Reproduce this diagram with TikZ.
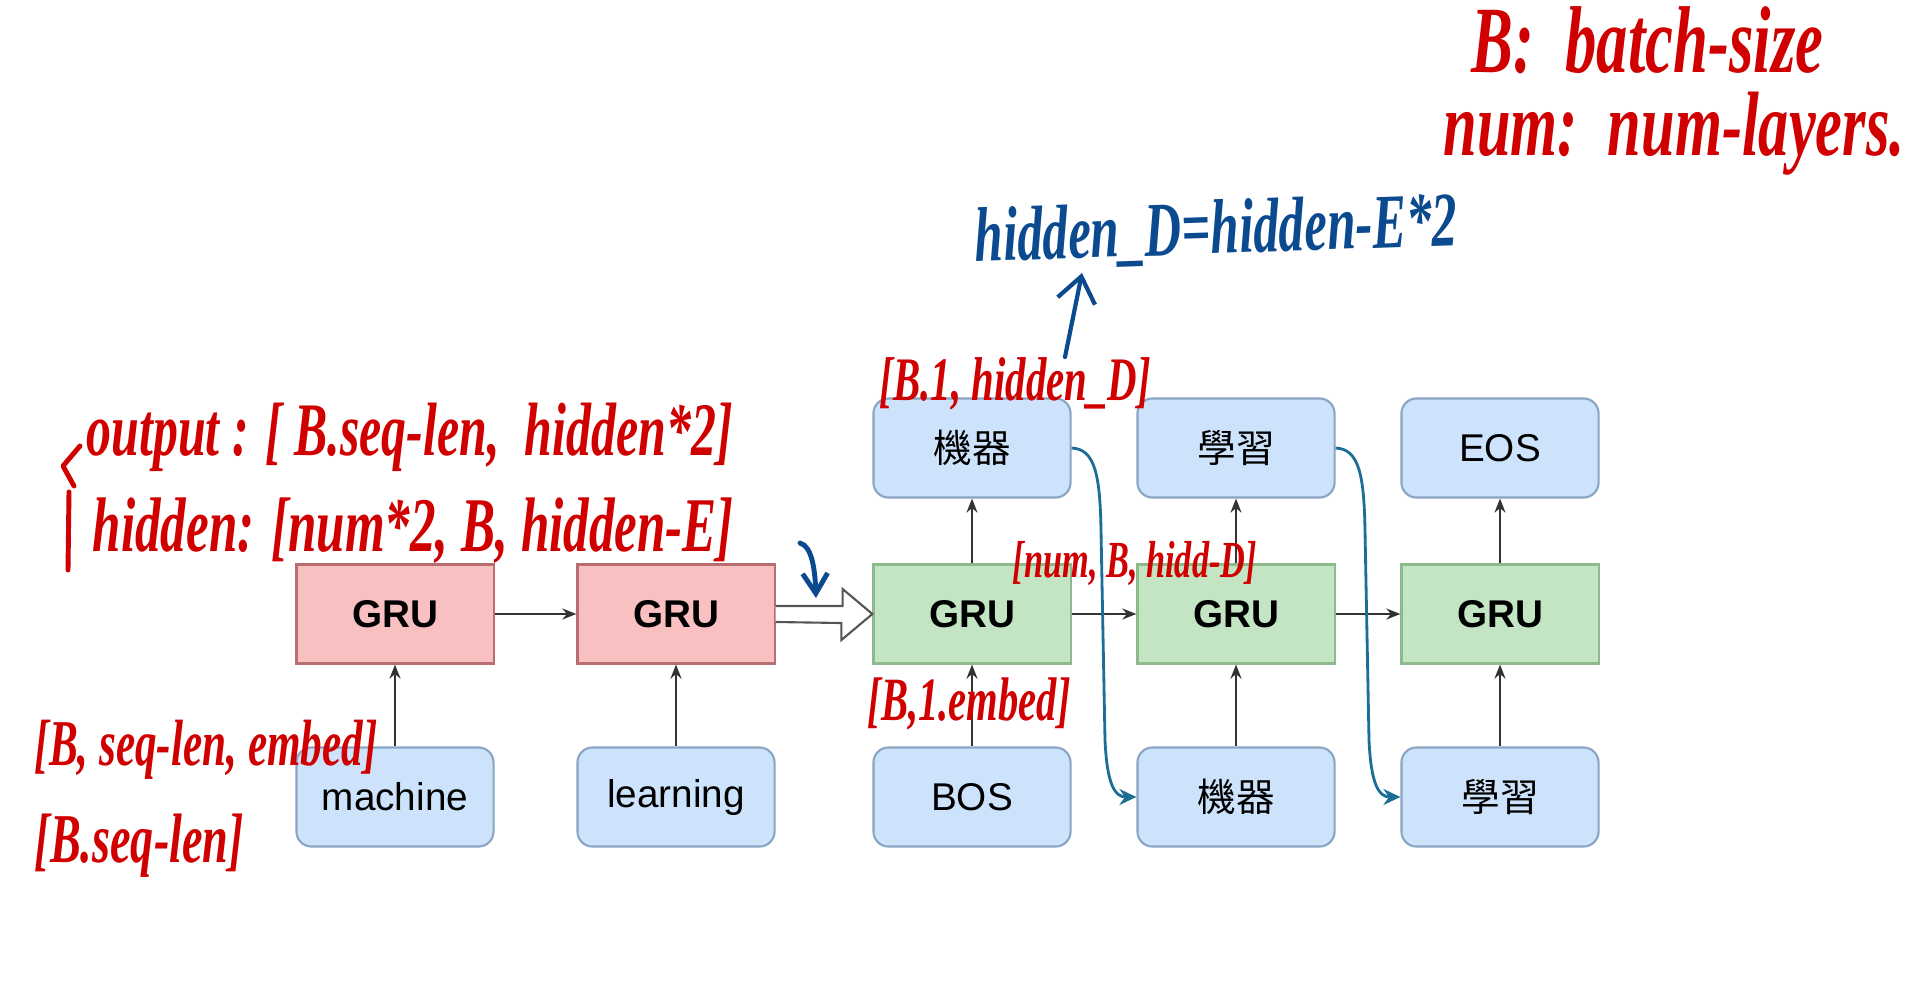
\documentclass[tikz,border=0pt]{standalone}
\usepackage{amsmath, amssymb, graphicx}
\usepackage{fontspec}
\setmainfont{Liberation Sans}
\newfontfamily\cjkfont{Noto Sans CJK TC}
\newfontfamily\handfont[FakeStretch=0.66]{Liberation Serif}
\usetikzlibrary{arrows.meta,calc}

\definecolor{encfill}{HTML}{F8C0C0}
\definecolor{encline}{HTML}{B86E6E}
\definecolor{decfill}{HTML}{C4E5C4}
\definecolor{decline}{HTML}{8DBA8A}
\definecolor{tokfill}{HTML}{CCE3FB}
\definecolor{tokline}{HTML}{8AA4C4}
\definecolor{arrowgray}{HTML}{333333}
\definecolor{hollowgray}{HTML}{555555}
\definecolor{linkteal}{HTML}{1C6E96}
\definecolor{penred}{HTML}{D00000}
\definecolor{penblue}{HTML}{0B4A8E}

\tikzset{pen/.style={text=penred, inner sep=0pt, anchor=base west,
                     font=\handfont\bfseries\itshape\fontsize{#1}{#1}\selectfont}}

\begin{document}
\begin{tikzpicture}[x=0.01cm,y=-0.01cm]
\useasboundingbox (0,0) rectangle (1930,1000);

\begin{scope}[every node/.style={rectangle,draw=encline,fill=encfill,line width=0.6pt,
              minimum width=1.97cm,minimum height=0.99cm,font=\fontsize{11}{13}\selectfont\bfseries}]
    \node (E1) at (395,614) {GRU};
    \node (E2) at (676,614) {GRU};
\end{scope}

\begin{scope}[every node/.style={rectangle,draw=decline,fill=decfill,line width=0.6pt,
              minimum width=1.97cm,minimum height=0.99cm,font=\fontsize{11}{13}\selectfont\bfseries}]
    \node (D1) at (972,614) {GRU};
    \node (D2) at (1236,614) {GRU};
    \node (D3) at (1500,614) {GRU};
\end{scope}

\begin{scope}[every node/.style={rectangle,rounded corners=0.15cm,draw=tokline,fill=tokfill,line width=0.6pt,
              minimum width=1.97cm,minimum height=0.99cm,font=\fontsize{11}{13}\selectfont}]
    \node (X1) at (395,797) {machine};
    \node (X2) at (676,797) {learning};
    \node (Y0) at (972,797) {BOS};
    \node (Y1) at (1236,797) {\cjkfont 機器};
    \node (Y2) at (1500,797) {\cjkfont 學習};
    \node (O1) at (972,448) {\cjkfont 機器};
    \node (O2) at (1236,448) {\cjkfont 學習};
    \node (O3) at (1500,448) {EOS};
\end{scope}

\begin{scope}[>={Stealth[length=1.4mm,width=1.1mm]},
              every edge/.style={draw=arrowgray,line width=0.6pt}]
    \path [->] (E1) edge (E2);
    \path [->] (D1) edge (D2);
    \path [->] (D2) edge (D3);
    \path [->] (X1) edge (E1);
    \path [->] (X2) edge (E2);
    \path [->] (Y0) edge (D1);
    \path [->] (Y1) edge (D2);
    \path [->] (Y2) edge (D3);
    \path [->] (D1) edge (O1);
    \path [->] (D2) edge (O2);
    \path [->] (D3) edge (O3);
\end{scope}

% context handed to the decoder
\draw [draw=hollowgray,fill=white,line width=0.6pt]
    ($(E2.east)+(0,-8)$) -- ++(67,0) -- ++(0,-17) -- (D1.west)
    -- ++(-31,26) -- ++(0,-17) -- ($(E2.east)+(0,8)$);

% previous output fed back in
\begin{scope}[linkteal,line width=0.8pt,>={Stealth[length=0.17cm,width=0.16cm]}]
    \draw [->] (O1.east) .. controls (1095,449) and (1100,475) .. (1101,530)
        -- (1105,740) .. controls (1107,785) and (1115,797) .. (Y1.west);
    \draw [->] (O2.east) .. controls (1359,449) and (1364,475) .. (1365,530)
        -- (1369,740) .. controls (1371,785) and (1379,797) .. (Y2.west);
\end{scope}

% notes
\node[pen=27] (keyB) at (1471,72) {B:\ \ batch-size};
\node[pen=26] (keyN) at (1443,155) {num:\ \ num-layers.};
\node[pen=21.5] (encOut) at (86,455) {output : [ B.seq-len,\ \ hidden*2]};
\node[pen=22] (encHid) at (92,551) {hidden: [num*2, B, hidden-E]};
\node[pen=18.6] (inEmb) at (34,765) {[B, seq-len, embed]};
\node[pen=19.9] (inTok) at (34,862) {[B.seq-len]};
\node[pen=17.6] (decOut) at (879,400) {[B.1,\ hidden\_D]};
\node[pen=14.8] (decHid) at (1012,577) {[num, B, hidd-D]};
\node[pen=17.5] (decEmb) at (867,720) {[B,1.embed]};
\node[pen=22,text=penblue,rotate=2] (note) at (975,262) {hidden\_D=hidden-E*2};

\draw [penred,line width=1.4pt,line cap=round,line join=round] (80,446) -- (63,466) -- (74,486);
\draw [penred,line width=1.4pt,line cap=round] (69,492) -- (68,570);

\coordinate (tailA) at (1065,357);
\coordinate (headA) at (1082,273);
\coordinate (tailB) at (800,543);
\coordinate (headB) at (816,598);
\draw [penblue,line width=1.2pt,line cap=round,-{Straight Barb[length=0.25cm,width=0.38cm]}] (tailA) -- (headA);
\draw [penblue,line width=1.4pt,line cap=round,-{Straight Barb[length=0.2cm,width=0.25cm]}]
    (tailB) .. controls (812,546) and (815,570) .. (headB);
\end{tikzpicture}
\end{document}
